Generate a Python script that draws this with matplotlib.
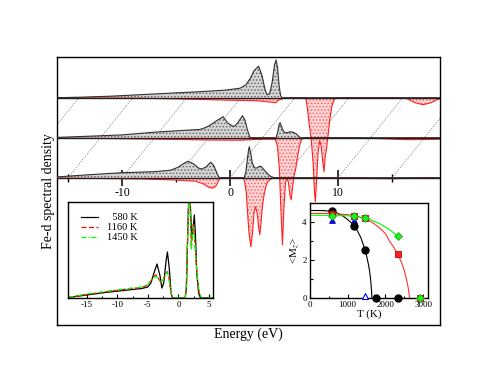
import matplotlib
matplotlib.use('Agg')
import matplotlib.pyplot as plt
from matplotlib.ticker import MultipleLocator

plt.rcParams['font.family'] = ['Liberation Serif', 'DejaVu Serif']
plt.rcParams['mathtext.fontset'] = 'stix'
plt.rcParams['axes.unicode_minus'] = False
plt.rcParams['hatch.linewidth'] = 0.7

# ---------------- main waterfall: Fe-d spectral density ----------------
level_shift_E = 3.0      # eV shift between stacked spectra
level_shift_y = 40.0     # vertical offset between stacked spectra
grid_E = [-20, -15, -10, -5, 0, 5, 10, 15, 20]
major_ticks = [-10, 0, 10]
minor_ticks = [-15, -5, 5, 15]

# bottom spectrum (level 0)
bot_up_E = [-16.0, -13.0, -10.0, -7.0, -5.5, -4.8, -4.4, -3.9, -3.4, -2.9, -2.6, -2.2, -1.8, -1.5, -1.2, -1.0,
            1.3, 1.45, 1.6, 1.7, 1.78, 1.9, 2.05, 2.25, 2.45, 2.65, 2.85, 3.05, 3.3, 3.55, 3.8, 4.1, 19.5]
bot_up_D = [0.8, 3.0, 5.0, 6.0, 7.5, 10.5, 13.5, 16.5, 14.0, 9.5, 8.7, 11.0, 15.5, 12.0, 4.0, 0.0,
            0.0, 5, 18, 27, 31, 25, 15, 10, 9.5, 11, 11.5, 9, 6, 3, 1, 0, 0]
bot_dn_E = [-16.0, -12.0, -8.0, -5.0, -3.2, -2.5, -2.0, -1.65, -1.35, -1.15, -1.0, -0.8,
            1.2, 1.35, 1.5, 1.62, 1.75, 1.92, 2.08, 2.22, 2.35, 2.5, 2.65, 2.75, 2.87, 3.0, 3.15, 3.33, 3.5, 3.7, 4.0,
            12.0, 13.0, 15.0, 17.0, 18.0, 19.5]
bot_dn_D = [-0.3, -0.8, -1.3, -2.3, -3.5, -6, -9.5, -10.5, -9, -5, -1.5, 0,
            0, -4, -15, -35, -55, -69, -55, -35, -29, -35, -50, -57, -45, -28, -17, -8, -4, -2, 0,
            0, -0.8, -1, -0.5, 0, 0]

# middle spectrum (level 1)
mid_up_E = [-19.0, -16.0, -13.0, -10.0, -7.0, -5.8, -5.3, -4.7, -4.1, -3.65, -3.2, -2.75, -2.55, -2.25, -1.85,
            -1.6, -1.4, -1.15, 1.26, 1.40, 1.54, 1.63, 1.77, 1.91, 2.09, 2.28, 2.56, 2.83, 3.11, 3.3, 3.5, 16.5]
mid_up_D = [0.3, 1.5, 2.8, 5.5, 7.5, 8.2, 10, 13.5, 18, 21, 14.5, 11.5, 11.8, 15.5, 22,
            17, 8, 0, 0, 5, 13, 15, 11, 7, 5, 5, 6, 5.5, 4, 2, 0, 0]
mid_dn_E = [-19.0, -13.0, -8.0, -5.0, -2.0, 0.0, 1.0, 1.2, 1.38, 1.56, 1.7, 1.85, 1.99, 2.13, 2.27, 2.41,
            2.55, 2.66, 2.78, 2.92, 3.06, 3.24, 3.43, 3.61, 3.9, 8.0, 11.0, 13.5, 16.5]
mid_dn_D = [-0.3, -1, -1.7, -2.3, -2.5, -1.5, -1.5, -2, -8, -30, -70, -107, -70, -45, -40, -45,
            -58, -62, -50, -38, -32, -20, -8, -2, 0, 0, -1, -2, -1.5]

# top spectrum (level 2)
top_up_E = [-22.0, -19.9, -17.1, -14.3, -11.6, -8.8, -6.5, -5.07, -4.52, -4.15, -3.78, -3.36, -3.04, -2.76,
            -2.57, -2.34, -2.11, -1.88, -1.74, -1.6, -1.46, -1.32, -1.19, 13.5]
top_up_D = [0, 0.5, 1.5, 3, 4.5, 6, 7.5, 9.5, 13, 19, 27, 31.5, 22, 8,
            3, 4, 15, 33, 37.7, 30, 12, 2, 0, 0]
top_dn_E = [-22.0, -14.3, -9.7, -6.0, -3.7, -3.06, -1.74, -1.46, -0.9, 1.0, 1.13, 1.31, 1.5, 1.69, 1.82, 1.9,
            2.0, 2.15, 2.29, 2.43, 2.56, 2.7, 2.8, 2.94, 3.07, 3.26, 3.44, 3.63, 3.81,
            9.74, 10.39, 11.13, 11.87, 12.61, 13.17, 13.5]
top_dn_D = [0, -0.5, -1.5, -2.5, -3, -3.5, -5, -2, -0.5, 0, -8, -25, -40, -65, -95, -104,
            -85, -55, -43, -48, -62, -74, -60, -50, -38, -20, -8, -2, 0,
            0, -1, -5, -7, -5, -2, -1]

spectra = [
    (top_up_E, top_up_D, top_dn_E, top_dn_D),
    (mid_up_E, mid_up_D, mid_dn_E, mid_dn_D),
    (bot_up_E, bot_up_D, bot_dn_E, bot_dn_D),
]
levels = [2, 1, 0]

# ---------------- inset 1: DOS at three temperatures ----------------
ins_E_580 = [-18, -15, -12, -9, -6, -5, -4.5, -4.0, -3.5, -3.0, -2.7, -2.4, -2.0, -1.8, -1.5, -1.2, -1.0,
             1.1, 1.3, 1.5, 1.7, 1.85, 2.0, 2.2, 2.4, 2.6, 2.8, 3.0, 3.3, 3.6, 5.7]
ins_D_580 = [0.5, 3, 5.5, 7.5, 9.5, 11, 15, 25, 34, 22, 10, 15, 38, 46, 30, 5, 0,
             0, 10, 60, 105, 110, 85, 59, 70, 83, 60, 25, 5, 0, 0]
ins_E_1160 = [-18, -15, -12, -9, -6, -5, -4.5, -4.0, -3.6, -3.2, -2.9, -2.5, -2.0, -1.8, -1.5, -1.2, -1.0,
              1.1, 1.3, 1.5, 1.7, 1.85, 2.0, 2.1, 2.3, 2.45, 2.7, 3.0, 3.4, 3.8, 5.7]
ins_D_1160 = [0.5, 3.5, 6, 8.5, 10.5, 13, 17, 22, 23, 19, 16, 18, 25, 26.4, 18, 5, 0,
              0, 12, 60, 100, 105, 75, 50, 65, 74, 55, 25, 5, 0, 0]
ins_E_1450 = [-18, -15, -12, -9, -6, -5, -4.5, -4.0, -3.6, -3.2, -2.9, -2.5, -2.0, -1.8, -1.5, -1.2, -1.0,
              1.1, 1.3, 1.5, 1.7, 1.85, 2.0, 2.1, 2.3, 2.45, 2.7, 3.0, 3.4, 3.8, 5.7]
ins_D_1450 = [0.7, 4, 6.5, 9, 11, 13.5, 17.5, 21, 21.5, 18.5, 16, 18, 24.5, 25.7, 18, 6, 0.5,
              0, 13, 60, 98, 103, 72, 48, 62, 71, 55, 26, 6, 0, 0]
ins_labels = ['  580 K', '1160 K', '1450 K']

# ---------------- inset 2: <M_z> vs T ----------------
circ_T = [580, 1160, 1450, 1740, 2320]
circ_M = [4.6, 3.82, 2.54, 0, 0]
sq_T = [580, 1160, 1450, 2320, 2900]
sq_M = [4.45, 4.35, 4.2, 2.33, 0]
dia_T = [580, 1160, 1450, 2320, 2900]
dia_M = [4.33, 4.35, 4.25, 3.28, 0]
tri_T = [580, 1160]
tri_M = [4.12, 4.12]
tri_open_T = [1450]
tri_open_M = [0.1]
fitk_T = [0, 200, 400, 580, 700, 800, 900, 1000, 1100, 1160, 1250, 1350, 1450, 1500, 1550, 1580, 1600, 1620, 1635, 1642]
fitk_M = [4.62, 4.62, 4.61, 4.57, 4.5, 4.42, 4.3, 4.15, 3.97, 3.85, 3.58, 3.2, 2.62, 2.25, 1.8, 1.45, 1.15, 0.75, 0.35, 0]
fitr_T = [0, 500, 1000, 1160, 1450, 1650, 1850, 2000, 2110, 2220, 2320, 2420, 2505, 2560, 2600, 2625, 2635]
fitr_M = [4.47, 4.46, 4.4, 4.36, 4.2, 4.0, 3.7, 3.4, 3.0, 2.68, 2.35, 1.9, 1.4, 0.95, 0.55, 0.2, 0]
fitg_T = [0, 500, 1000, 1160, 1450, 1650, 1850, 2000, 2150, 2320]
fitg_M = [4.37, 4.36, 4.34, 4.32, 4.24, 4.1, 3.92, 3.75, 3.55, 3.28]

# ======================= drawing =======================
W, H = 495, 383
fig = plt.figure(figsize=(W / 100, H / 100), dpi=100)

def px_axes(l, r, t, b):
    return fig.add_axes([l / W, (H - b) / H, (r - l) / W, (b - t) / H])

ax = px_axes(57.3, 440, 57, 325)
ax.set_xlim(-16.0, 19.44)
ax.set_ylim(-147.3, 120.7)
ax.set_xticks([])
ax.set_yticks([])
for s in ax.spines.values():
    s.set_linewidth(1.0)

# slanted grid lines joining equal energies on the stacked baselines
top_level = max(levels)
for e in grid_E:
    ax.plot([e, e + level_shift_E * top_level], [0, level_shift_y * top_level],
            color='#8a8a8a', lw=0.6, ls=(0, (1.5, 1.5)), zorder=1)

for lev, (ue, ud, de, dd) in zip(levels, spectra):
    x0 = level_shift_E * lev
    y0 = level_shift_y * lev
    ux = [e + x0 for e in ue]
    uy = [y0 + d for d in ud]
    dx = [e + x0 for e in de]
    dy = [y0 + d for d in dd]
    ax.fill_between(dx, y0, dy, facecolor='#ffd6d6', edgecolor='#ff6060', hatch='.....',
                    lw=0, zorder=2 + (2 - lev))
    ax.plot(dx, dy, color='#ff2020', lw=0.8, zorder=2.5 + (2 - lev))
    ax.fill_between(ux, y0, uy, facecolor='#d6d6d6', edgecolor='#666666', hatch='.....',
                    lw=0, zorder=2 + (2 - lev))
    ax.plot(ux, uy, color='#303030', lw=0.8, zorder=2.5 + (2 - lev))
    ax.axhline(y0, color='#202020', lw=1.0, zorder=6)

ylo, yhi = ax.get_ylim()
sec = ax.secondary_xaxis((0 - ylo) / (yhi - ylo))
sec.set_alignment('bottom')
sec.set_xticks(major_ticks)
sec.set_xticklabels([str(t) for t in major_ticks])
sec.set_xticks(minor_ticks, minor=True)
sec.tick_params(which='major', direction='inout', length=11, width=1.1, labelsize=8.5, pad=1.5)
sec.tick_params(which='minor', direction='inout', length=5.5, width=1.0)
sec.spines['bottom'].set_visible(False)
sec.spines['top'].set_visible(False)

ax.set_ylabel('Fe-d spectral density', fontsize=10, labelpad=2)
ax.set_xlabel('Energy (eV)', fontsize=10, labelpad=2)

# ---------------- inset 1 ----------------
a1 = px_axes(68.3, 213.3, 202.3, 298.0)
a1.set_zorder(10)
a1.set_facecolor('white')
a1.plot(ins_E_580, ins_D_580, color='black', lw=0.9, label=ins_labels[0])
a1.plot(ins_E_1160, ins_D_1160, color='red', lw=0.9, ls=(0, (4, 2)), label=ins_labels[1])
a1.plot(ins_E_1450, ins_D_1450, color='#00ff00', lw=0.9, ls=(0, (4, 1.5, 1, 1.5)), label=ins_labels[2])
a1.set_xlim(-18, 5.7)
a1.set_ylim(0, 95.7)
a1.set_yticks([])
a1.xaxis.set_major_locator(MultipleLocator(5))
a1.xaxis.set_minor_locator(MultipleLocator(2.5))
a1.tick_params(axis='x', which='major', direction='in', length=3, width=0.8, labelsize=6.5, pad=2)
a1.tick_params(axis='x', which='minor', direction='in', length=1.8, width=0.8)
for s in a1.spines.values():
    s.set_linewidth(1.0)
a1.legend(loc='upper left', frameon=False, fontsize=7.5, handlelength=1.6, handletextpad=0.9,
          labelspacing=0.08, borderaxespad=0.25, bbox_to_anchor=(0.04, 0.96))

# ---------------- inset 2 ----------------
a2 = px_axes(309.6, 428.3, 202.5, 298.3)
a2.set_zorder(10)
a2.set_facecolor('white')
a2.plot(fitk_T, fitk_M, color='black', lw=0.8)
a2.plot(fitr_T, fitr_M, color='#ff3030', lw=0.8)
a2.plot(fitg_T, fitg_M, color='#00ff00', lw=0.8)
a2.plot(circ_T, circ_M, 'o', color='black', ms=5, clip_on=False, zorder=5)
a2.plot(sq_T, sq_M, 's', mfc='#ff2020', mec='#c00000', mew=0.6, ms=4.5, clip_on=False, zorder=5)
a2.plot(dia_T, dia_M, 'D', mfc='#20ee20', mec='#10a010', mew=0.5, ms=3.6, clip_on=False, zorder=6)
a2.plot(tri_T, tri_M, '^', mfc='#0000ff', mec='#0000b0', mew=0.5, ms=5, clip_on=False, zorder=4)
a2.plot(tri_open_T, tri_open_M, '^', mfc='white', mec='#0000ff', mew=0.8, ms=4.5, clip_on=False, zorder=4)
a2.set_xlim(0, 3130)
a2.set_ylim(0, 5.04)
a2.xaxis.set_major_locator(MultipleLocator(1000))
a2.xaxis.set_minor_locator(MultipleLocator(500))
a2.yaxis.set_major_locator(MultipleLocator(2))
a2.yaxis.set_minor_locator(MultipleLocator(1))
a2.tick_params(which='major', direction='in', length=3, width=0.8, labelsize=6.5, pad=2)
a2.tick_params(which='minor', direction='in', length=1.8, width=0.8)
for s in a2.spines.values():
    s.set_linewidth(1.0)
a2.set_xlabel('T (K)', fontsize=8, labelpad=0)
a2.set_ylabel(r'<M$_z$>', fontsize=8, labelpad=1)

fig.savefig('out.png', dpi=100)
